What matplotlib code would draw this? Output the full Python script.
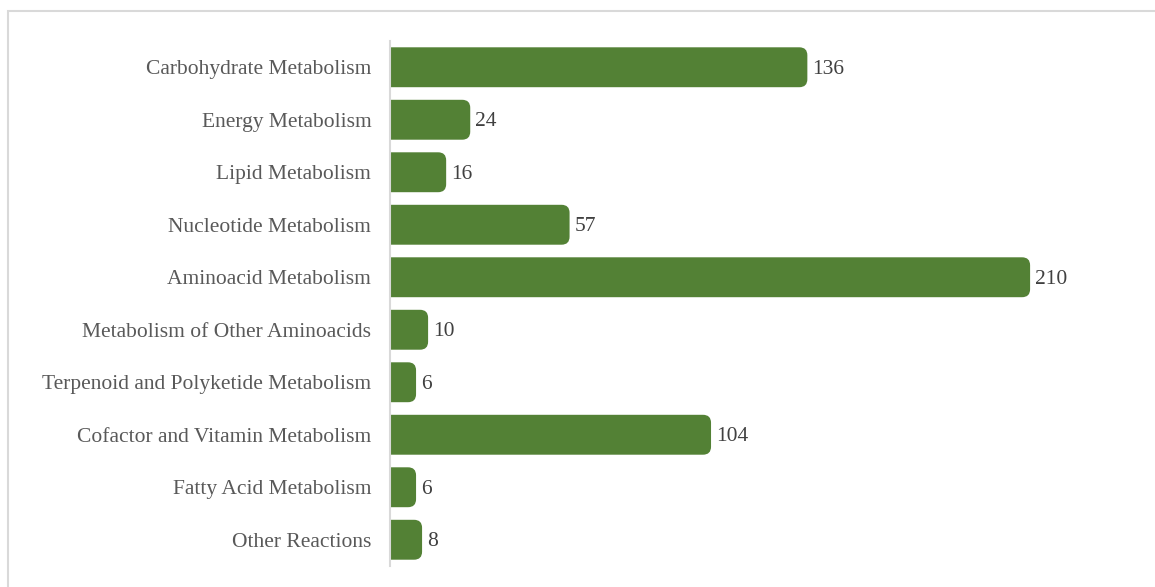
import matplotlib.pyplot as plt
from matplotlib.patches import FancyBboxPatch, Rectangle
from matplotlib.transforms import ScaledTranslation

# Reaction counts per metabolic subsystem
categories = ['Carbohydrate Metabolism', 'Energy Metabolism', 'Lipid Metabolism',
              'Nucleotide Metabolism', 'Aminoacid Metabolism',
              'Metabolism of Other Aminoacids', 'Terpenoid and Polyketide Metabolism',
              'Cofactor and Vitamin Metabolism', 'Fatty Acid Metabolism', 'Other Reactions']
counts = [136, 24, 16, 57, 210, 10, 6, 104, 6, 8]

bar_color = '#538135'
plt.rcParams['font.family'] = ['Liberation Serif', 'DejaVu Serif']

fig = plt.figure(figsize=(11.55, 5.87), dpi=100)
W, H = 1155, 587
ax_left, ax_right = 390, 1152
ax = fig.add_axes([ax_left / W, 1 - 566 / H, (ax_right - ax_left) / W, 525 / H])

# value axis: zero sits a few pixels right of the category axis line
px_per_x = 3.01
x0 = -8 / px_per_x
xmax = x0 + (ax_right - ax_left) / px_per_x
ax.set_xlim(x0, xmax)
ax.set_ylim(len(categories) - 0.5, -0.5)

# rounded right ends: radius in x data units, scaled to y via mutation_aspect
px_per_y = 525 / len(categories)
r_px = 8
r_x = r_px / px_per_x
aspect = (r_px / px_per_y) / r_x
bar_h = 0.76

# nudge text down slightly so it sits centred on the bars
shift = ScaledTranslation(0, -1.5 / 72, fig.dpi_scale_trans)

for i, v in enumerate(counts):
    start = x0 - r_x * 2
    patch = FancyBboxPatch((start, i - bar_h / 2), v - start, bar_h,
                           boxstyle=f'round,pad=0,rounding_size={r_x}',
                           mutation_aspect=aspect, facecolor=bar_color,
                           edgecolor='none', clip_on=True)
    ax.add_patch(patch)
    ax.text(v + 5 / px_per_x, i, str(v), va='center', ha='left',
            fontsize=15.5, color='#404040', transform=ax.transData + shift)

ax.set_yticks(range(len(categories)))
ax.set_yticklabels(categories, fontsize=15.5, color='#595959')
for lbl in ax.get_yticklabels():
    lbl.set_transform(lbl.get_transform() + shift)
ax.tick_params(axis='y', length=0, pad=13.5)
ax.set_xticks([])
for s in ['top', 'right', 'bottom']:
    ax.spines[s].set_visible(False)
ax.spines['left'].set_color('#d9d9d9')
ax.spines['left'].set_linewidth(1.5)
ax.spines['left'].set_zorder(3)

# chart area border
fig.patches.append(Rectangle((8 / W, -0.02), 1.05, 1 - 11 / H + 0.02,
                             transform=fig.transFigure, fill=False,
                             edgecolor='#d9d9d9', linewidth=1.5))

fig.savefig('out.png', dpi=100)
